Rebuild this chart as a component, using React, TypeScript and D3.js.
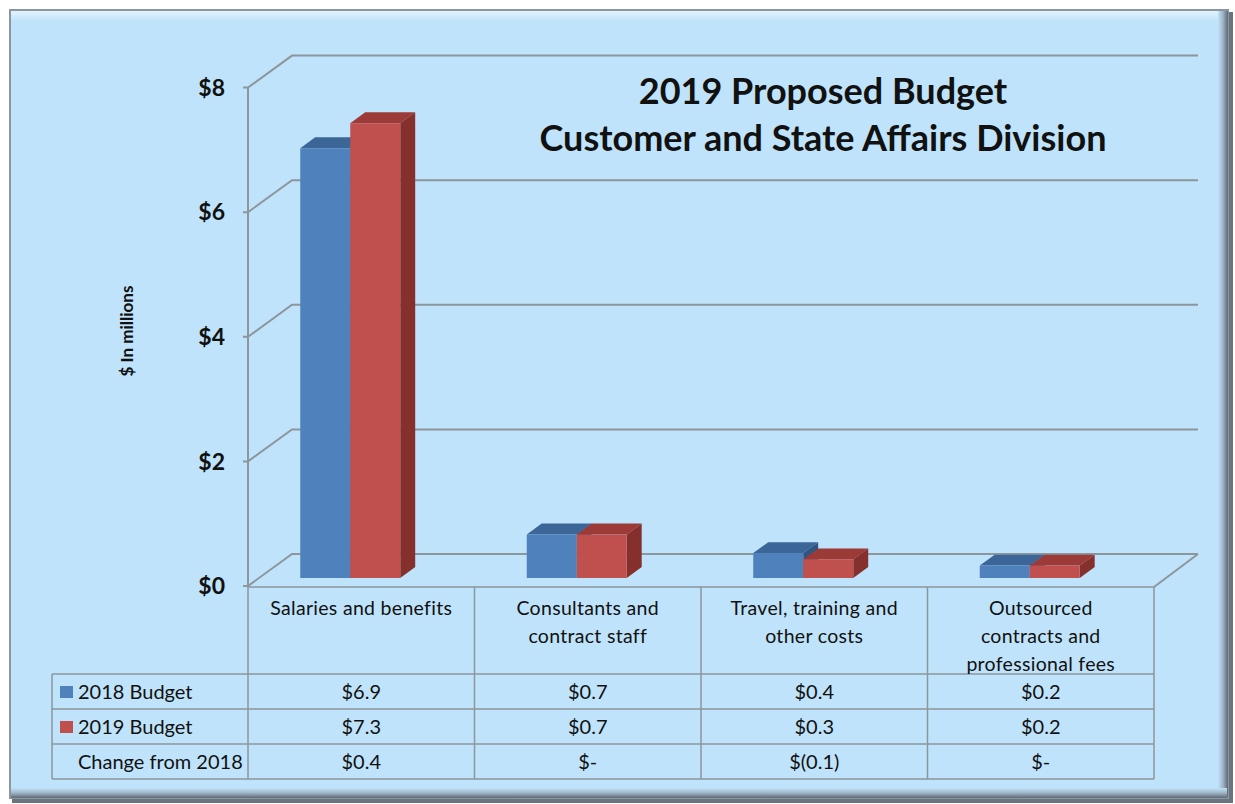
import React from "react";
import * as d3 from "d3";

const categories: string[][] = [
  ["Salaries and benefits"],
  ["Consultants and", "contract staff"],
  ["Travel, training and", "other costs"],
  ["Outsourced", "contracts and", "professional fees"],
];
const seriesNames = ["2018 Budget", "2019 Budget"];
const budget2018 = [6.9, 0.7, 0.4, 0.2];
const budget2019 = [7.3, 0.7, 0.3, 0.2];
const changeLabels = ["$0.4", "$-", "$(0.1)", "$-"];
const yTicks = [0, 2, 4, 6, 8];
const yTickLabels = ["$0", "$2", "$4", "$6", "$8"];
const titleLines = ["2019 Proposed Budget", "Customer and State Affairs Division"];

const W = 1235, H = 804;
const X0 = 248, X1 = 1154, Y0 = 586, K = 62.3;
const DX = 44, DY = -32;
const D1 = 0.25, D2 = 0.59;
const FONT = "Lato, 'Open Sans', sans-serif";
const GRID = "#8d969d";

const colors = [
  { front: "#4f81bd", top: "#3c6698", side: "#2f5583" },
  { front: "#c0504d", top: "#9c3a37", side: "#85302d" },
];

export default function App() {
  const catKeys = categories.map((c) => c.join(" "));
  const x = d3.scaleBand<string>().domain(catKeys).range([X0, X1]);
  const y = d3.scaleLinear().domain([0, 8]).range([Y0, Y0 - 8 * K]);
  const sub = d3.scaleBand<string>().domain(seriesNames).range([0, 100]);
  const bw = x.bandwidth();
  const P = (px: number, py: number, d: number): [number, number] => [px + d * DX, py + d * DY];
  const poly = (pts: [number, number][]) => pts.map((p) => p.join(",")).join(" ");
  const series = [budget2018, budget2019];

  const tableTop = Y0 + 1;
  const rowYs = [674, 709, 744, 779];
  const legendLeft = 52;

  return (
    <svg width={W} height={H} style={{ position: "absolute", left: 0, top: 0 }} fontFamily={FONT}>
      <defs>
        <linearGradient id="rbev" x1="0" x2="1" y1="0" y2="0">
          <stop offset="0" stopColor="#bfe3fa" />
          <stop offset="0.5" stopColor="#9fb4c4" />
          <stop offset="1" stopColor="#5d6873" />
        </linearGradient>
        <linearGradient id="bbev" x1="0" x2="0" y1="0" y2="1">
          <stop offset="0" stopColor="#bfe3fa" />
          <stop offset="0.5" stopColor="#9fb4c4" />
          <stop offset="1" stopColor="#5d6873" />
        </linearGradient>
        <linearGradient id="tbev" x1="0" x2="0" y1="0" y2="1">
          <stop offset="0" stopColor="#e4f3fd" />
          <stop offset="1" stopColor="#bfe3fa" />
        </linearGradient>
      </defs>
      <rect x={0} y={0} width={W} height={H} fill="#ffffff" />
      {/* frame */}
      <rect x={12} y={12} width={1221} height={791} fill="#6a747e" />
      <rect x={10} y={10} width={1218} height={788} fill="#bfe3fa" stroke="#8a96a1" strokeWidth={2} />
      <rect x={11} y={11} width={1216} height={10} fill="url(#tbev)" />
      <rect x={1218} y={11} width={10} height={786} fill="url(#rbev)" />
      <rect x={11} y={788} width={1216} height={10} fill="url(#bbev)" />

      {/* gridlines: side wall + back wall */}
      {yTicks.map((t) => {
        const yy = y(t);
        const [bx, by] = P(X0, yy, 1);
        const [rx] = P(X1, yy, 1);
        return (
          <path key={t} d={`M${X0 - 5},${yy}L${X0},${yy}L${bx},${by}L${rx},${by}`} fill="none" stroke={GRID} strokeWidth={2} />
        );
      })}
      {/* floor right edge */}
      {(() => {
        const [bx, by] = P(X1, Y0, 1);
        return <path d={`M${X1},${tableTop}L${bx},${by}`} fill="none" stroke={GRID} strokeWidth={2} />;
      })()}
      {/* front axis */}
      <line x1={X0} x2={X0} y1={y(8)} y2={Y0} stroke={GRID} strokeWidth={2} />

      {/* y tick labels */}
      {yTicks.map((t, i) => (
        <text key={t} x={225} y={y(t)} dy="0.36em" textAnchor="end" fontSize={23} fontWeight="bold" fill="#111">
          {yTickLabels[i]}
        </text>
      ))}
      <text transform="translate(133,331) rotate(-90)" textAnchor="middle" fontSize={17} fontWeight="bold" fill="#111">
        $ In millions
      </text>

      {/* bars */}
      {catKeys.map((c, ci) => (
        <g key={c}>
          {series.map((vals, si) => {
            const xl = (x(c) as number) + bw / 2 - 22 - 50 + (sub(seriesNames[si]) as number);
            const xr = xl + sub.bandwidth();
            const yt = y(vals[ci]);
            const yb = Y0;
            const col = colors[si];
            return (
              <g key={si}>
                <polygon points={poly([P(xl, yt, D1), P(xr, yt, D1), P(xr, yt, D2), P(xl, yt, D2)])} fill={col.top} />
                <polygon points={poly([P(xr, yt, D1), P(xr, yt, D2), P(xr, yb, D2), P(xr, yb, D1)])} fill={col.side} />
                <polygon points={poly([P(xl, yt, D1), P(xr, yt, D1), P(xr, yb, D1), P(xl, yb, D1)])} fill={col.front} />
              </g>
            );
          })}
        </g>
      ))}

      {/* title */}
      {titleLines.map((t, i) => (
        <text key={i} x={823} y={104 + i * 47} textAnchor="middle" fontSize={36} fontWeight="bold" fill="#111">
          {t}
        </text>
      ))}

      {/* data table */}
      <g stroke={GRID} strokeWidth={1.5} fill="none">
        <line x1={X0} x2={X1} y1={tableTop} y2={tableTop} />
        {rowYs.map((ry) => (
          <line key={ry} x1={legendLeft} x2={X1} y1={ry} y2={ry} />
        ))}
        <line x1={legendLeft} x2={legendLeft} y1={rowYs[0]} y2={rowYs[3]} />
        {[...catKeys.map((c) => x(c) as number), X1].map((vx, i) => (
          <line key={i} x1={vx} x2={vx} y1={i === 0 ? Y0 : tableTop} y2={rowYs[3]} />
        ))}
      </g>
      {categories.map((lines, ci) => (
        <text key={ci} textAnchor="middle" fontSize={19.5} letterSpacing={0.3} fill="#111">
          {lines.map((l, li) => (
            <tspan key={li} x={(x(catKeys[ci]) as number) + bw / 2} y={615 + li * 28}>
              {l}
            </tspan>
          ))}
        </text>
      ))}
      {/* legend rows */}
      {seriesNames.map((s, si) => (
        <g key={s}>
          <rect x={60} y={rowYs[si] + 12} width={13} height={12} fill={colors[si].front} />
          <text x={78} y={(rowYs[si] + rowYs[si + 1]) / 2} dy="0.36em" fontSize={20} fill="#111">
            {s}
          </text>
        </g>
      ))}
      <text x={78} y={(rowYs[2] + rowYs[3]) / 2} dy="0.36em" fontSize={20} fill="#111">
        Change from 2018
      </text>
      {catKeys.map((c, ci) => {
        const cx = (x(c) as number) + bw / 2;
        const vals = [`$${budget2018[ci].toFixed(1)}`, `$${budget2019[ci].toFixed(1)}`, changeLabels[ci]];
        return vals.map((v, ri) => (
          <text key={c + ri} x={cx} y={(rowYs[ri] + rowYs[ri + 1]) / 2} dy="0.36em" textAnchor="middle" fontSize={20} fill="#111">
            {v}
          </text>
        ));
      })}
    </svg>
  );
}
